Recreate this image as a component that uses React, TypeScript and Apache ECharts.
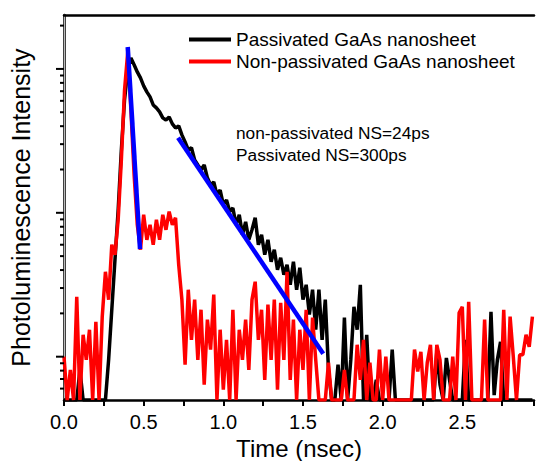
import React, { useEffect, useRef } from "react";
import * as echarts from "echarts";

const timeStep = 0.02; // ns between samples
const passivated = [
  0.5, 0.5, 0.5, 0.5, 0.5, 0.81, 0.5, 0.5, 0.5, 0.5, 0.5, 0.5, 0.5, 0.5,
  0.95, 2.12, 4.72, 10.5, 27.4, 60.9, 98.4, 119, 107, 95.3,
  86.6, 76.2, 69.2, 63.9, 56.2, 53.6, 50.3, 45.7, 44.2, 46.4,
  41.5, 38.9, 40.2, 34.8, 31.1, 27.4, 28.3, 23.3, 21.5, 19.9,
  21.5, 17.5, 15.6, 16.4, 13.3, 14.4, 11.4, 12.3, 10.2, 10.8,
  8.25, 9.69, 7.03, 8.66, 6.49, 7.62, 9.23, 6.0, 7.03, 5.11,
  6.49, 4.57, 5.54, 4.02, 4.87, 3.71, 4.35, 3.16, 4.57, 2.92,
  4.15, 2.49, 3.16, 1.96, 2.92, 1.54, 2.92, 1.31, 2.49, 0.81,
  0.5, 0.5, 0.88, 0.5, 1.87, 0.5, 0.95, 2.22, 1.54, 3.16,
  0.5, 1.42, 0.5, 0.5, 0.69, 0.5, 0.5, 0.5, 0.5, 1.12,
  0.5, 0.5, 0.5, 0.5, 0.5, 0.5, 0.5, 0.5, 0.5, 0.5, 0.5, 0.5, 0.5,
  1.08, 0.64, 0.5, 0.98, 0.69,
  0.5, 0.5, 0.5, 0.5,
  1.31,
  0.5, 0.5, 0.5, 0.5, 0.5, 0.5, 0.5,
  2.05, 0.54, 0.95, 1.27,
  0.5, 0.5, 0.5, 0.5, 0.5, 0.5, 0.5, 0.5, 0.5, 0.5,
];
const nonPassivated = [
  1.0, 0.5, 0.81, 0.5, 2.61, 0.5, 1.42, 0.95, 1.54, 0.5,
  1.75, 0.5, 1.9, 3.89, 2.49, 6.0, 5.11, 8.94, 23.3, 71.5,
  131, 51.9, 18.4, 8.25, 5.54, 9.69, 6.49, 8.25, 6.0, 8.94,
  6.49, 9.69, 7.62, 10.2, 8.25, 9.23, 4.35, 2.49, 0.88, 2.92,
  1.31, 2.49, 0.95, 2.12, 0.64, 1.81, 1.12, 2.7, 0.5, 1.54,
  0.59, 1.31, 0.5, 2.12, 0.5, 1.54, 0.95, 1.81, 0.81, 2.49,
  3.32, 1.31, 2.12, 0.69, 2.3, 0.95, 2.49, 0.59, 2.37, 0.95,
  3.89, 0.69, 1.81, 0.5, 1.54, 0.81, 2.12, 0.5, 1.87, 0.95,
  0.5, 0.5, 0.5, 0.91, 0.5, 0.5, 0.5, 0.5, 0.81, 0.5,
  0.5, 0.5, 1.21, 0.69, 1.31, 0.5, 0.91, 0.5, 0.5, 1.12,
  0.5, 1.0, 0.5, 0.5, 0.5, 0.5, 0.5, 0.5, 0.5, 0.5,
  1.12, 0.79, 1.08, 0.5, 0.91, 1.21, 0.5, 1.21, 0.95, 0.5,
  0.5, 0.5, 1.0, 0.5, 2.02, 2.22, 0.5, 2.41, 0.5, 0.5,
  0.5, 0.5, 1.81, 0.5, 0.5, 0.5, 0.5, 0.5, 2.12, 0.5,
  1.9, 1.0, 0.5, 1.03, 1.03, 1.42, 1.17, 1.9,
];
const fitNonPassivated = [
  [0.4, 142],
  [0.477, 5.6],
];
const fitPassivated = [
  [0.716, 33.2],
  [1.627, 1.05],
];
const seriesNames = ["Passivated GaAs nanosheet", "Non-passivated GaAs nanosheet"];
const annotations = ["non-passivated NS=24ps", "Passivated NS=300ps"];
const yMajorTicks = [1, 10, 100];
const yMinorTicks = [0.6, 0.7, 0.8, 0.9, 2, 3, 4, 5, 6, 7, 8, 9, 20, 30, 40, 50, 60, 70, 80, 90, 200];

const X_MIN = 0;
const X_MAX = 2.95;
const Y_MIN = 0.5;
const Y_MAX = 237;
const FONT = "'Liberation Sans', Arial, sans-serif";

export default function App() {
  const ref = useRef<HTMLDivElement>(null);
  useEffect(() => {
    if (!ref.current) return;
    const chart = echarts.init(ref.current, null, { renderer: "svg" });
    const toPairs = (arr: number[]) => arr.map((v, i) => [+(i * timeStep).toFixed(3), v]);
    const tickData = [
      ...yMajorTicks.map((v) => [X_MIN, v, 8]),
      ...yMinorTicks.map((v) => [X_MIN, v, 4]),
    ];
    chart.setOption({
      animation: false,
      textStyle: { fontFamily: FONT },
      grid: { left: 64, top: 15, right: 2, bottom: 61, outerBoundsMode: "none", containLabel: false },
      legend: {
        data: seriesNames,
        orient: "vertical",
        left: 184,
        top: 25,
        icon: "rect",
        itemWidth: 42,
        itemHeight: 4,
        itemGap: 3,
        selectedMode: false,
        textStyle: { fontSize: 19, lineHeight: 19, color: "#000", fontFamily: FONT },
      },
      graphic: [
        {
          type: "text",
          left: 236,
          top: 122,
          style: {
            text: annotations.join("\n"),
            font: `17.3px ${FONT}`,
            lineHeight: 22,
            fill: "#000",
          },
        },
      ],
      xAxis: [
        {
          type: "value",
          min: X_MIN,
          max: X_MAX,
          interval: 0.5,
          name: "Time (nsec)",
          nameLocation: "middle",
          nameGap: 31,
          nameTextStyle: { fontSize: 24, lineHeight: 24, color: "#000", fontFamily: FONT },
          axisLine: { lineStyle: { color: "#000", width: 2.5 } },
          axisTick: { show: true, length: 6, lineStyle: { color: "#000", width: 2 } },
          minorTick: { show: true, splitNumber: 2, length: 6, lineStyle: { color: "#000", width: 2 } },
          axisLabel: {
            fontSize: 20,
            color: "#000",
            margin: 12,
            fontFamily: FONT,
            showMaxLabel: false,
            formatter: (v: number) => v.toFixed(1),
          },
          splitLine: { show: false },
        },
        {
          type: "value",
          position: "top",
          min: X_MIN,
          max: X_MAX,
          axisLine: { show: true, lineStyle: { color: "#000", width: 2.5 } },
          axisTick: { show: false },
          axisLabel: { show: false },
          splitLine: { show: false },
        },
      ],
      yAxis: [
        {
          type: "log",
          min: Y_MIN,
          max: Y_MAX,
          name: "Photoluminescence Intensity",
          nameLocation: "middle",
          nameGap: 31,
          nameTextStyle: { fontSize: 25, color: "#000", fontFamily: FONT },
          axisLine: { show: true, lineStyle: { color: "#000", width: 2.5 } },
          axisTick: { show: false },
          axisLabel: { show: false },
          splitLine: { show: false },
        },
        {
          type: "log",
          position: "right",
          min: Y_MIN,
          max: Y_MAX,
          axisLine: { show: true, lineStyle: { color: "#bbb", width: 1 } },
          axisTick: { show: false },
          axisLabel: { show: false },
          splitLine: { show: false },
        },
      ],
      series: [
        {
          name: seriesNames[0],
          type: "line",
          data: toPairs(passivated),
          showSymbol: false,
          symbol: "none",
          lineStyle: { color: "#000", width: 3.5 },
          itemStyle: { color: "#000" },
          z: 2,
        },
        {
          name: seriesNames[1],
          type: "line",
          data: toPairs(nonPassivated),
          showSymbol: false,
          symbol: "none",
          lineStyle: { color: "#ff0000", width: 3.5 },
          itemStyle: { color: "#ff0000" },
          z: 3,
        },
        {
          name: "fit1",
          type: "line",
          data: fitNonPassivated,
          showSymbol: false,
          symbol: "none",
          lineStyle: { color: "#0000ff", width: 4.5 },
          z: 4,
        },
        {
          name: "fit2",
          type: "line",
          data: fitPassivated,
          showSymbol: false,
          symbol: "none",
          lineStyle: { color: "#0000ff", width: 4.5 },
          z: 4,
        },
        {
          name: "yticks",
          type: "custom",
          silent: true,
          data: tickData,
          renderItem: (params: any, api: any) => {
            const p = api.coord([api.value(0), api.value(1)]);
            const len = api.value(2);
            return {
              type: "line",
              shape: { x1: p[0] - len, y1: p[1], x2: p[0], y2: p[1] },
              style: { stroke: "#000", lineWidth: 2 },
            };
          },
          z: 5,
        },
      ],
    });
    return () => chart.dispose();
  }, []);
  return <div ref={ref} style={{ width: 536, height: 461, position: "absolute", left: 0, top: 0 }} />;
}
